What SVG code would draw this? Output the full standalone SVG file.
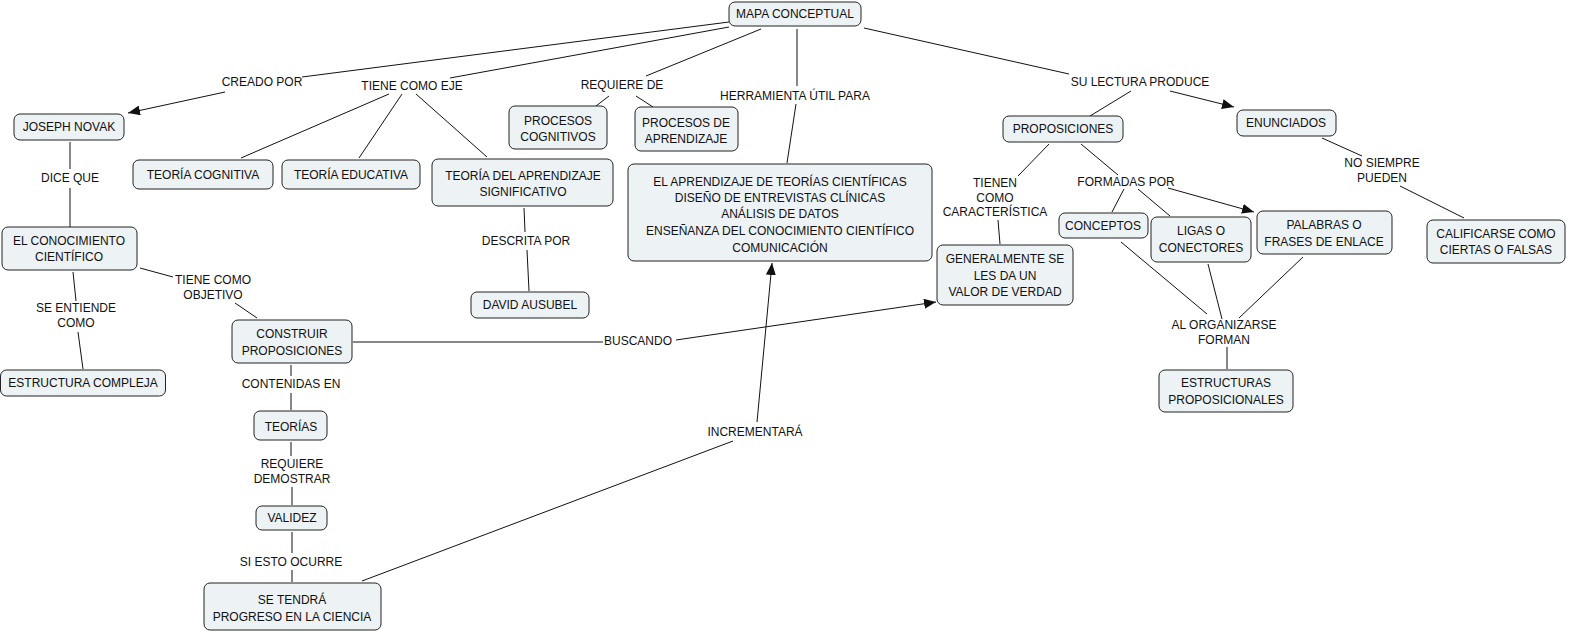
<svg xmlns="http://www.w3.org/2000/svg" width="1570" height="633" viewBox="0 0 1570 633">
<style>
.n rect{fill:#edf2f5;stroke:#222;stroke-width:1}
.n text{font-family:"Liberation Sans",Arial,sans-serif;font-size:12px;fill:#111;text-anchor:middle}
.l text{font-family:"Liberation Sans",Arial,sans-serif;font-size:12px;fill:#111;text-anchor:middle}
#connectors line{stroke:#111;stroke-width:1;fill:none}
.a{marker-end:url(#arr)}
</style>
<defs>
<marker id="arr" viewBox="0 0 12 10" refX="12" refY="5" markerWidth="12" markerHeight="10" markerUnits="userSpaceOnUse" orient="auto">
<path d="M0,0 L12,5 L0,10 Z" fill="#111"/>
</marker>
</defs>
<rect width="1570" height="633" fill="#fff"/>
<g id="connectors">
<line x1="729" y1="22" x2="302" y2="77"/>
<line x1="729" y1="27" x2="450" y2="78"/>
<line x1="225" y1="92" x2="128" y2="113" class="a"/>
<line x1="389" y1="94" x2="241" y2="158"/>
<line x1="402" y1="94" x2="359" y2="158"/>
<line x1="416" y1="94" x2="487" y2="157"/>
<line x1="761" y1="29" x2="646" y2="76"/>
<line x1="609" y1="96" x2="596" y2="106"/>
<line x1="636" y1="96" x2="653" y2="107"/>
<line x1="797" y1="29" x2="797" y2="86"/>
<line x1="796" y1="104" x2="787" y2="163"/>
<line x1="864" y1="28" x2="1069" y2="74"/>
<line x1="1131" y1="91" x2="1090" y2="116"/>
<line x1="1170" y1="91" x2="1234" y2="107" class="a"/>
<line x1="1049" y1="144" x2="1018" y2="176"/>
<line x1="998" y1="220" x2="1000" y2="244"/>
<line x1="1081" y1="144" x2="1118" y2="175"/>
<line x1="1124" y1="189" x2="1112" y2="212"/>
<line x1="1138" y1="189" x2="1170" y2="216"/>
<line x1="1168" y1="188" x2="1254" y2="212" class="a"/>
<line x1="1322" y1="138" x2="1362" y2="156"/>
<line x1="1400" y1="186" x2="1464" y2="218"/>
<line x1="1121" y1="242" x2="1207" y2="314"/>
<line x1="1208" y1="264" x2="1222" y2="319"/>
<line x1="1303" y1="257" x2="1239" y2="318"/>
<line x1="1227" y1="347" x2="1227" y2="369"/>
<line x1="70" y1="142" x2="70" y2="169"/>
<line x1="70" y1="188" x2="70" y2="227"/>
<line x1="73" y1="272" x2="76" y2="301"/>
<line x1="78" y1="332" x2="83" y2="369"/>
<line x1="140" y1="268" x2="173" y2="277"/>
<line x1="235" y1="303" x2="257" y2="318"/>
<line x1="524" y1="208" x2="525" y2="232"/>
<line x1="527" y1="250" x2="529" y2="291"/>
<line x1="353" y1="342" x2="603" y2="342"/>
<line x1="676" y1="340" x2="936" y2="302" class="a"/>
<line x1="291" y1="365" x2="291" y2="376"/>
<line x1="291" y1="393" x2="291" y2="410"/>
<line x1="291" y1="442" x2="291" y2="456"/>
<line x1="292" y1="487" x2="292" y2="505"/>
<line x1="292" y1="532" x2="292" y2="553"/>
<line x1="292" y1="570" x2="292" y2="582"/>
<line x1="362" y1="581" x2="733" y2="441"/>
<line x1="757" y1="422" x2="772" y2="263" class="a"/>
</g>
<g class="l" id="labels">
<text x="262" y="86">CREADO POR</text>
<text x="412" y="90">TIENE COMO EJE</text>
<text x="622" y="89">REQUIERE DE</text>
<text x="795" y="100">HERRAMIENTA ÚTIL PARA</text>
<text x="1140" y="86">SU LECTURA PRODUCE</text>
<text x="70" y="182">DICE QUE</text>
<text x="526" y="245">DESCRITA POR</text>
<text x="995" y="187">TIENEN</text>
<text x="995" y="202">COMO</text>
<text x="995" y="216">CARACTERÍSTICA</text>
<text x="1126" y="186">FORMADAS POR</text>
<text x="1382" y="167">NO SIEMPRE</text>
<text x="1382" y="182">PUEDEN</text>
<text x="213" y="284">TIENE COMO</text>
<text x="213" y="299">OBJETIVO</text>
<text x="76" y="312">SE ENTIENDE</text>
<text x="76" y="327">COMO</text>
<text x="638" y="345">BUSCANDO</text>
<text x="291" y="388">CONTENIDAS EN</text>
<text x="755" y="436">INCREMENTARÁ</text>
<text x="292" y="468">REQUIERE</text>
<text x="292" y="483">DEMOSTRAR</text>
<text x="291" y="566">SI ESTO OCURRE</text>
<text x="1224" y="329">AL ORGANIZARSE</text>
<text x="1224" y="344">FORMAN</text>
</g>
<g class="n" id="mapa"><rect x="729" y="2" width="132" height="24" rx="6"/><text x="795" y="18">MAPA CONCEPTUAL</text></g>
<g class="n" id="novak"><rect x="14" y="114" width="110" height="26" rx="6"/><text x="69" y="131">JOSEPH NOVAK</text></g>
<g class="n" id="cognitiva"><rect x="133" y="160" width="140" height="29" rx="6"/><text x="203" y="179">TEORÍA COGNITIVA</text></g>
<g class="n" id="educativa"><rect x="282" y="160" width="138" height="29" rx="6"/><text x="351" y="179">TEORÍA EDUCATIVA</text></g>
<g class="n" id="significativo"><rect x="432" y="159" width="181" height="47" rx="6"/><text x="523" y="180">TEORÍA DEL APRENDIZAJE</text><text x="523" y="196">SIGNIFICATIVO</text></g>
<g class="n" id="pcognitivos"><rect x="509" y="106" width="98" height="43" rx="6"/><text x="558" y="125">PROCESOS</text><text x="558" y="141">COGNITIVOS</text></g>
<g class="n" id="paprendizaje"><rect x="635" y="107" width="103" height="44" rx="6"/><text x="686" y="127">PROCESOS DE</text><text x="686" y="143">APRENDIZAJE</text></g>
<g class="n" id="herramienta"><rect x="628" y="164" width="304" height="97" rx="6"/><text x="780" y="186">EL APRENDIZAJE DE TEORÍAS CIENTÍFICAS</text><text x="780" y="202">DISEÑO DE ENTREVISTAS CLÍNICAS</text><text x="780" y="218">ANÁLISIS DE DATOS</text><text x="780" y="235">ENSEÑANZA DEL CONOCIMIENTO CIENTÍFICO</text><text x="780" y="252">COMUNICACIÓN</text></g>
<g class="n" id="proposiciones"><rect x="1003" y="116" width="120" height="26" rx="6"/><text x="1063" y="133">PROPOSICIONES</text></g>
<g class="n" id="enunciados"><rect x="1237" y="110" width="99" height="26" rx="6"/><text x="1286" y="127">ENUNCIADOS</text></g>
<g class="n" id="generalmente"><rect x="937" y="245" width="136" height="60" rx="6"/><text x="1005" y="263">GENERALMENTE SE</text><text x="1005" y="280">LES DA UN</text><text x="1005" y="296">VALOR DE VERDAD</text></g>
<g class="n" id="conceptos"><rect x="1059" y="213" width="89" height="25" rx="6"/><text x="1103" y="230">CONCEPTOS</text></g>
<g class="n" id="ligas"><rect x="1151" y="217" width="100" height="45" rx="6"/><text x="1201" y="235">LIGAS O</text><text x="1201" y="252">CONECTORES</text></g>
<g class="n" id="palabras"><rect x="1257" y="211" width="135" height="43" rx="6"/><text x="1324" y="229">PALABRAS O</text><text x="1324" y="246">FRASES DE ENLACE</text></g>
<g class="n" id="calificarse"><rect x="1427" y="220" width="138" height="43" rx="6"/><text x="1496" y="238">CALIFICARSE COMO</text><text x="1496" y="254">CIERTAS O FALSAS</text></g>
<g class="n" id="conocimiento"><rect x="2" y="227" width="135" height="43" rx="6"/><text x="69" y="245">EL CONOCIMIENTO</text><text x="69" y="261">CIENTÍFICO</text></g>
<g class="n" id="estructura"><rect x="0.5" y="370" width="165" height="26" rx="6"/><text x="83" y="387">ESTRUCTURA COMPLEJA</text></g>
<g class="n" id="construir"><rect x="232" y="320" width="120" height="43" rx="6"/><text x="292" y="338">CONSTRUIR</text><text x="292" y="355">PROPOSICIONES</text></g>
<g class="n" id="ausubel"><rect x="471" y="292" width="118" height="26" rx="6"/><text x="530" y="309">DAVID AUSUBEL</text></g>
<g class="n" id="teorias"><rect x="254" y="411" width="73" height="29" rx="6"/><text x="291" y="431">TEORÍAS</text></g>
<g class="n" id="validez"><rect x="256" y="506" width="71" height="24" rx="6"/><text x="292" y="522">VALIDEZ</text></g>
<g class="n" id="progreso"><rect x="204" y="583" width="177" height="47" rx="6"/><text x="292" y="604">SE TENDRÁ</text><text x="292" y="621">PROGRESO EN LA CIENCIA</text></g>
<g class="n" id="estructuras"><rect x="1159" y="370" width="134" height="42" rx="6"/><text x="1226" y="387">ESTRUCTURAS</text><text x="1226" y="404">PROPOSICIONALES</text></g>
</svg>
